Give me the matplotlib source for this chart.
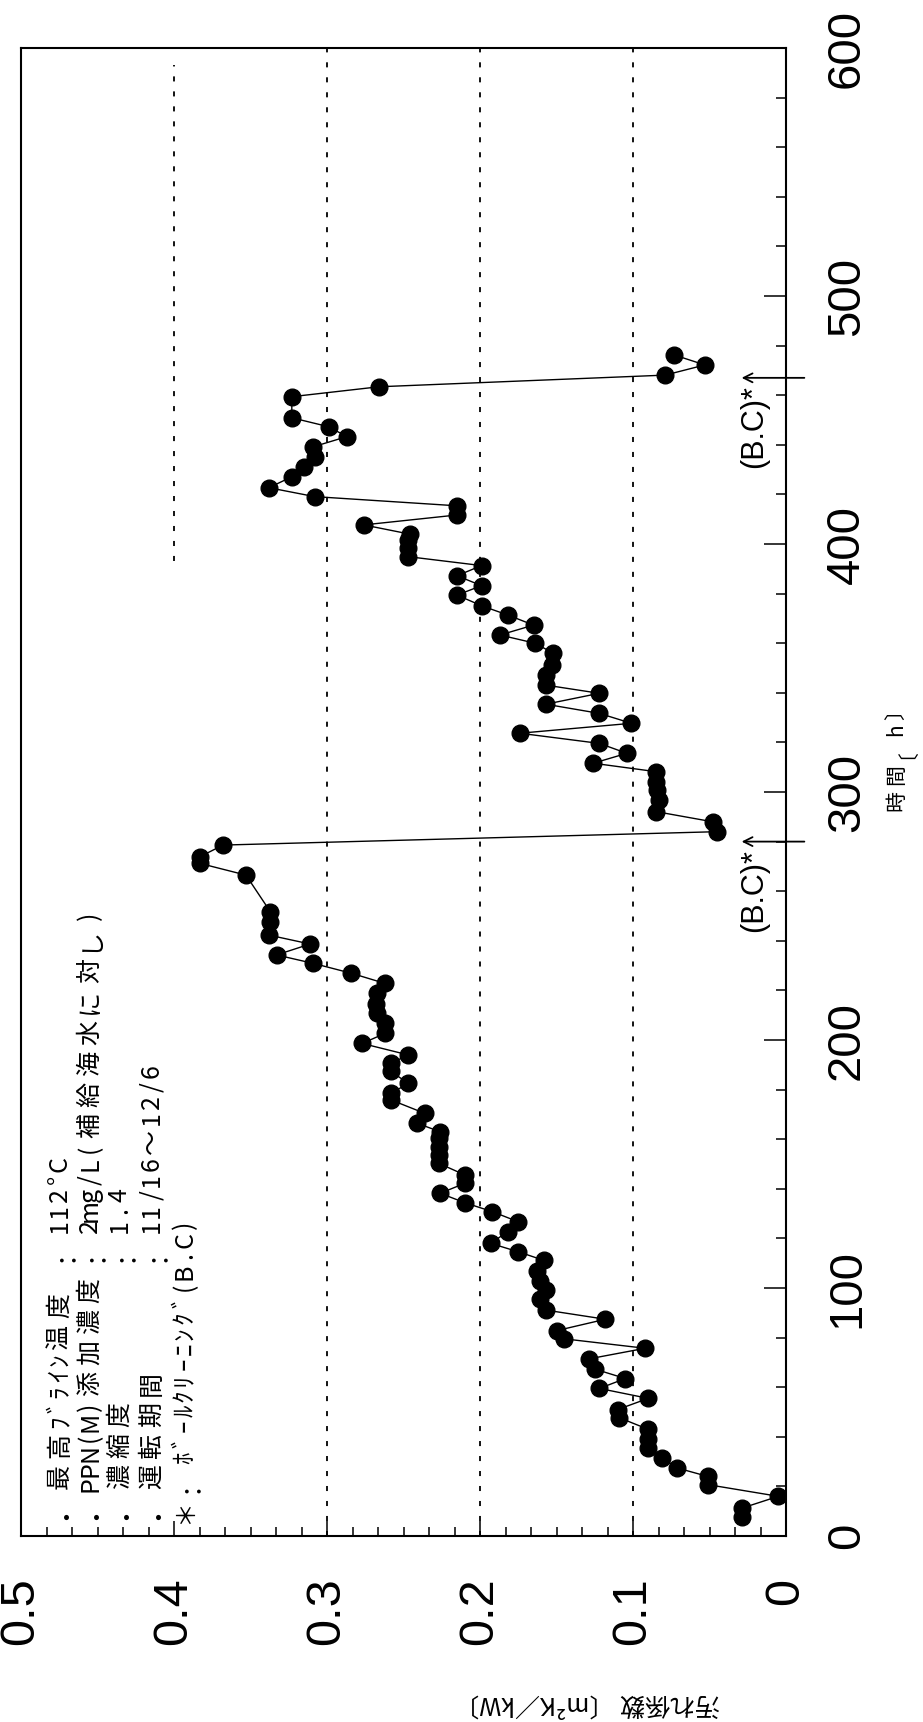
import unicodedata
import matplotlib
matplotlib.use("Agg")
import matplotlib.pyplot as plt
from matplotlib.ticker import MultipleLocator

W, H = 923, 1722

# operating time [h] and fouling coefficient [m2K/kW]
hours = [7.8, 11.2, 16.0, 20.7, 24.0, 27.4, 31.5, 35.5, 39.0, 43.0,
         47.7, 51.0, 55.5, 59.5, 63.5, 67.3, 71.4, 75.7, 79.5, 82.8,
         87.4, 91.1, 95.4, 99.0, 103.0, 106.7, 111.1, 114.6, 118.0, 122.7,
         126.7, 130.8, 134.4, 138.2, 142.2, 145.6, 150.3, 153.6, 157.0, 160.3,
         163.0, 166.4, 170.4, 175.8, 178.5, 182.5, 187.3, 190.6, 194.0, 198.6,
         202.7, 206.7, 210.7, 214.7, 218.8, 222.8, 226.9, 230.9, 234.3, 238.7,
         242.3, 247.7, 251.7, 266.5, 271.2, 273.9, 278.6, 284.0, 288.0, 292.1,
         296.8, 300.8, 304.2, 308.2, 311.6, 315.6, 319.6, 323.7, 327.7, 331.7,
         335.4, 339.8, 343.1, 347.1, 351.2, 355.9, 360.0, 363.3, 367.3, 371.4,
         375.1, 379.4, 383.2, 387.2, 391.3, 394.9, 398.3, 401.6, 404.0, 407.7,
         411.7, 415.4, 419.1, 422.7, 427.1, 431.2, 435.2, 439.2, 443.3, 447.3,
         450.9, 459.4, 463.4, 468.1, 472.2, 476.2]
fouling = [0.029, 0.029, 0.005, 0.051, 0.051, 0.071, 0.081, 0.090, 0.090, 0.090,
           0.109, 0.110, 0.090, 0.122, 0.105, 0.125, 0.129, 0.092, 0.145, 0.150,
           0.118, 0.157, 0.161, 0.157, 0.161, 0.163, 0.158, 0.175, 0.193, 0.182,
           0.175, 0.192, 0.210, 0.226, 0.210, 0.210, 0.227, 0.227, 0.227, 0.227,
           0.226, 0.241, 0.236, 0.258, 0.258, 0.247, 0.258, 0.258, 0.247, 0.277,
           0.262, 0.262, 0.267, 0.268, 0.267, 0.262, 0.284, 0.309, 0.333, 0.311,
           0.338, 0.337, 0.337, 0.353, 0.383, 0.383, 0.368, 0.045, 0.048, 0.085,
           0.083, 0.084, 0.085, 0.085, 0.126, 0.104, 0.122, 0.174, 0.101, 0.122,
           0.157, 0.122, 0.157, 0.157, 0.153, 0.152, 0.164, 0.187, 0.165, 0.182,
           0.199, 0.215, 0.199, 0.215, 0.199, 0.247, 0.247, 0.247, 0.246, 0.276,
           0.215, 0.215, 0.308, 0.338, 0.323, 0.315, 0.308, 0.309, 0.287, 0.299,
           0.323, 0.323, 0.266, 0.079, 0.053, 0.073]

bc_hours = [280, 467]           # ball cleaning
grid_levels = [0.1, 0.2, 0.3]
partial_level = 0.4
partial_span = [393, 593]

x_ticks = [0, 0.1, 0.2, 0.3, 0.4, 0.5]
x_labels = ["0", "0.1", "0.2", "0.3", "0.4", "0.5"]
y_ticks = [0, 100, 200, 300, 400, 500, 600]
y_labels = ["0", "100", "200", "300", "400", "500", "600"]

note_labels = ["・最高ﾌﾞﾗｲﾝ温度", "・PPN(M)添加濃度", "・濃縮度", "・運転期間"]
note_values = ["：112°C", "：2mg/L(補給海水に対し)", "：1.4", "：11/16～12/6"]
note_star = "＊：ﾎﾞｰﾙｸﾘｰﾆﾝｸﾞ(B.C)"

plt.rcParams["font.family"] = ["Liberation Sans", "Noto Sans CJK JP", "DejaVu Sans"]
JP = ["Noto Sans CJK JP", "DejaVu Sans"]

fig = plt.figure(figsize=(W / 100, H / 100), dpi=100)
ax = fig.add_axes([21 / W, 1 - 1536 / H, (786 - 21) / W, (1536 - 48) / H])


def vtext(x, y, s, pitch=31, size=18):
    # one glyph per cell, running upward (rotated column of text)
    for ch in s:
        w = pitch / 2 if unicodedata.east_asian_width(ch) in ("H", "Na", "A") else pitch
        if ch != " ":
            fig.text(x / W, 1 - (y - w / 2) / H, ch, rotation=90, rotation_mode="anchor",
                     ha="center", va="center", fontsize=size, family=JP)
        y -= w


ax.plot(fouling, hours, "-o", color="black", lw=1.0, ms=12, zorder=3)

dash = (0, (2.8, 5.5))
for lv in grid_levels:
    ax.axvline(lv, color="black", lw=1.3, ls=dash, zorder=1)
ax.plot([partial_level, partial_level], partial_span, color="black", lw=1.3, ls=dash, zorder=1)

for t in bc_hours:
    ax.annotate("", xy=(0.029, t), xytext=(-0.012, t),
                arrowprops=dict(arrowstyle="->", lw=1.3, color="black", mutation_scale=16,
                                shrinkA=0, shrinkB=0),
                annotation_clip=False)
    ax.text(0.021, t - 3, "(B.C)*", rotation=90, rotation_mode="anchor",
            ha="right", va="center", fontsize=22)

ax.set_xlim(0.5, 0)
ax.set_ylim(0, 600)
ax.set_xticks(x_ticks)
ax.set_xticklabels(x_labels)
ax.set_yticks(y_ticks)
ax.set_yticklabels(y_labels)
ax.xaxis.set_minor_locator(MultipleLocator(0.1 / 6))
ax.yaxis.set_minor_locator(MultipleLocator(20))
ax.yaxis.tick_right()

ax.tick_params(axis="x", which="both", direction="in", bottom=True, top=False,
               labelsize=35, pad=30, width=1.1)
ax.tick_params(axis="x", which="major", length=10.8)
ax.tick_params(axis="x", which="minor", length=6.5)
ax.tick_params(axis="y", which="both", direction="in", right=True, left=False,
               labelright=True, labelleft=False, labelsize=34, pad=28, width=1.1)
ax.tick_params(axis="y", which="major", length=15.8)
ax.tick_params(axis="y", which="minor", length=7.2)
for lab in ax.get_xticklabels():
    lab.set_rotation(90)
for lab in ax.get_yticklabels():
    lab.set_rotation(90)
    lab.set_va("center")

for s in ax.spines.values():
    s.set_linewidth(1.5)

# note block inside the plot
cols = [60, 90, 120, 152]
for x, lab, val in zip(cols, note_labels, note_values):
    vtext(x, 1523, lab)
    vtext(x, 1265, val)
vtext(185, 1527, note_star)

# axis titles
vtext(896, 814, "時間〔h〕", pitch=26, size=15)
fig.text(587 / W, 1 - 1703 / H, "汚れ係数 〔m²K／kW〕", rotation=180,
         ha="center", va="center", fontsize=18, family=JP)

fig.savefig("out.png", dpi=100)
